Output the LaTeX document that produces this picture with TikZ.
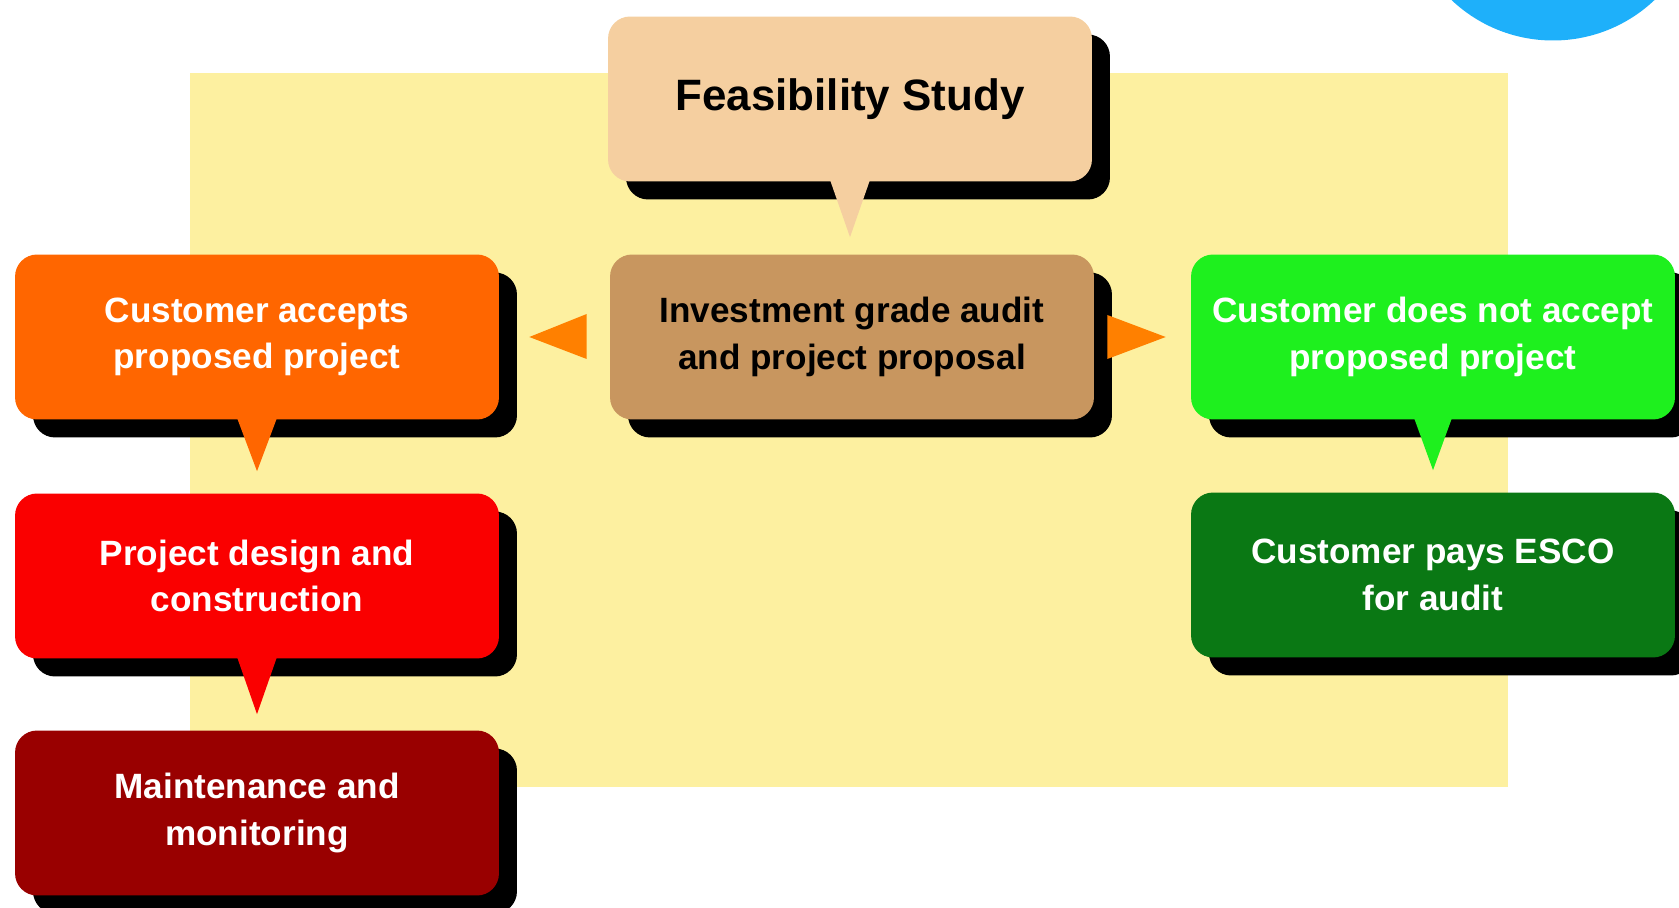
\documentclass[tikz,border=0pt]{standalone}
\usepackage{fontspec}
\setmainfont{Liberation Sans}
\usetikzlibrary{calc,shadows}
\definecolor{bgyellow}{RGB}{253,240,160}
\definecolor{skyblue}{RGB}{30,176,250}
\definecolor{peach}{RGB}{245,207,160}
\definecolor{auditbrown}{RGB}{200,150,95}
\definecolor{acceptorange}{RGB}{255,102,0}
\definecolor{designred}{RGB}{250,0,0}
\definecolor{monitorred}{RGB}{153,0,0}
\definecolor{rejectgreen}{RGB}{30,240,30}
\definecolor{paygreen}{RGB}{10,120,20}
\definecolor{tiporange}{RGB}{255,128,0}
\begin{document}
\begin{tikzpicture}[x=0.02cm, y=0.02cm,
    stage/.style={rounded corners=0.44cm, minimum width=9.68cm, minimum height=3.3cm,
      inner sep=0pt, align=center, text=white,
      font=\bfseries\fontsize{20}{26.5}\selectfont,
      drop shadow={shadow xshift=0.36cm, shadow yshift=-0.36cm, fill=black, opacity=1}}]
  \useasboundingbox (0,0) rectangle (1679,-908);
  \fill[bgyellow] (190,-73) rectangle (1508,-787);
  \fill[skyblue] (1553,107) circle (147.5);

  \node[stage, fill=peach, text=black, font=\bfseries\fontsize{25}{30}\selectfont] (feas) at (850,-99) {Feasibility Study};
  \node[stage, fill=auditbrown, text=black] (inv) at (852,-337) {Investment grade audit\\and project proposal};
  \node[stage, fill=acceptorange] (acc) at (257,-337) {Customer accepts\\proposed project};
  \node[stage, fill=designred] (des) at (257,-576) {Project design and\\construction};
  \node[stage, fill=monitorred] (mon) at (257,-813) {Maintenance and\\monitoring};
  \node[stage, fill=rejectgreen] (rej) at (1433,-337) {Customer does not accept\\proposed project};
  \node[stage, fill=paygreen] (pay) at (1433,-575) {Customer pays ESCO\\for audit};

  % pointers
  \fill[peach] ($(feas.south)+(-20,2)$) -- ($(feas.south)+(20,2)$) -- ($(inv.north)+(-2,17)$) -- cycle;
  \fill[acceptorange] ($(acc.south)+(-20,2)$) -- ($(acc.south)+(20,2)$) -- ($(des.north)+(0,22)$) -- cycle;
  \fill[designred] ($(des.south)+(-20,2)$) -- ($(des.south)+(20,2)$) -- ($(mon.north)+(0,16)$) -- cycle;
  \fill[rejectgreen] ($(rej.south)+(-19,2)$) -- ($(rej.south)+(19,2)$) -- ($(pay.north)+(0,22)$) -- cycle;
  \fill[tiporange] ($(inv.west)+(-23,23)$) -- ($(inv.west)+(-23,-22)$) -- ($(acc.east)+(30,0)$) -- cycle;
  \fill[tiporange] ($(inv.east)+(13,22)$) -- ($(inv.east)+(13,-22)$) -- ($(rej.west)+(-25,0)$) -- cycle;
\end{tikzpicture}
\end{document}
